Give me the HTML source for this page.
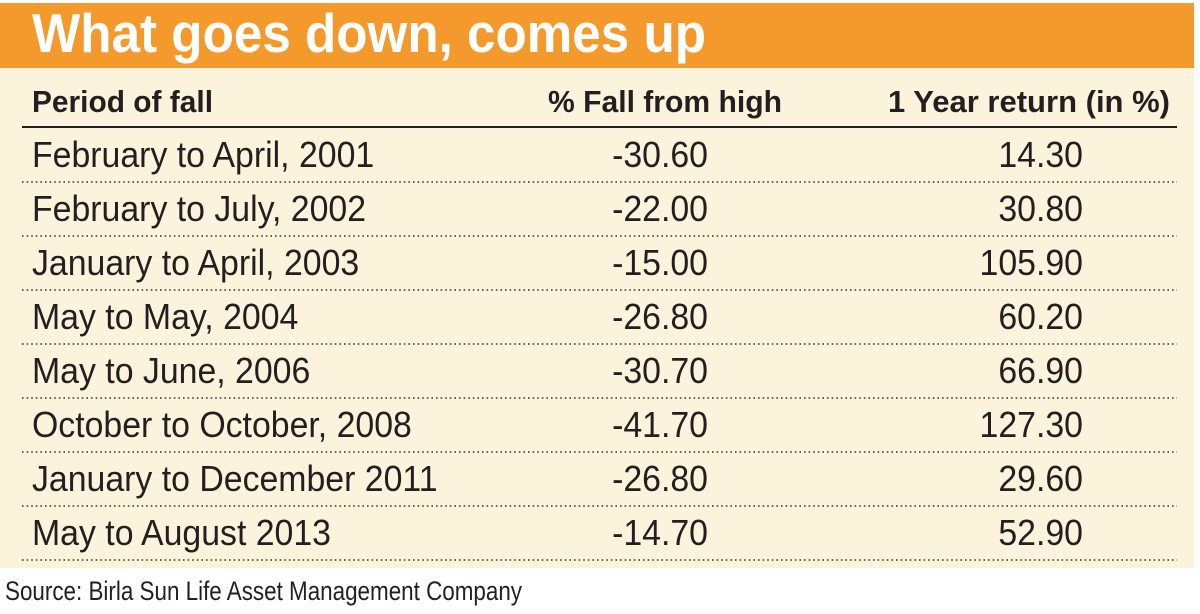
<!DOCTYPE html>
<html><head><meta charset="utf-8"><style>
html,body{margin:0;padding:0;background:#fff;width:1200px;height:614px;overflow:hidden}
svg text{font-family:"Liberation Sans",sans-serif;fill:#231f20}
</style></head><body>
<svg width="1200" height="614" viewBox="0 0 1200 614">
<rect x="0" y="3" width="1194" height="65" fill="#f4992b"/>
<rect x="0" y="68" width="1194" height="500" fill="#fcf3dc"/>
<text x="32" y="52" font-size="55" font-weight="bold" style="fill:#fff" textLength="674" lengthAdjust="spacingAndGlyphs">What goes down, comes up</text>
<text x="32" y="112" font-size="31" font-weight="bold" textLength="181" lengthAdjust="spacingAndGlyphs">Period of fall</text>
<text x="548" y="112" font-size="31" font-weight="bold" textLength="234" lengthAdjust="spacingAndGlyphs">% Fall from high</text>
<text x="888" y="112" font-size="31" font-weight="bold" textLength="282" lengthAdjust="spacingAndGlyphs">1 Year return (in %)</text>
<line x1="22" y1="127" x2="1177" y2="127" stroke="#231f20" stroke-width="2"/>
<g id="rows"></g>
<text x="5" y="600" font-size="27" textLength="517" lengthAdjust="spacingAndGlyphs">Source: Birla Sun Life Asset Management Company</text>
</svg>
<script>
const periods=["February to April, 2001","February to July, 2002","January to April, 2003","May to May, 2004","May to June, 2006","October to October, 2008","January to December 2011","May to August 2013"];
const falls=["-30.60","-22.00","-15.00","-26.80","-30.70","-41.70","-26.80","-14.70"];
const returns=["14.30","30.80","105.90","60.20","66.90","127.30","29.60","52.90"];
const NS="http://www.w3.org/2000/svg";
const g=document.getElementById('rows');
const rowH=54, top0=128;
function addText(x,y,str,anchor,name){
  const grp=document.createElementNS(NS,'g');
  grp.setAttribute('transform','translate('+x+','+y+') scale(0.94,1)');
  const t=document.createElementNS(NS,'text');
  t.setAttribute('font-size','36');
  t.setAttribute('text-anchor',anchor);
  t.textContent=str;
  
  
  grp.appendChild(t);g.appendChild(grp);
}
periods.forEach((p,i)=>{
  const base=top0+i*rowH+39;
  addText(32,base,p,'start','period-cell');
  addText(708,base,falls[i],'end','fall-cell');
  addText(1083,base,returns[i],'end','return-cell');
  const l=document.createElementNS(NS,'line');
  const ly=top0+(i+1)*rowH;
  l.setAttribute('x1','22');l.setAttribute('x2','1177');
  l.setAttribute('y1',ly);l.setAttribute('y2',ly);
  l.setAttribute('stroke','#3a3530');l.setAttribute('stroke-width','1.6');
  l.setAttribute('stroke-dasharray','1.6 3');
  
  
  g.appendChild(l);
});
</script>
</body></html>
